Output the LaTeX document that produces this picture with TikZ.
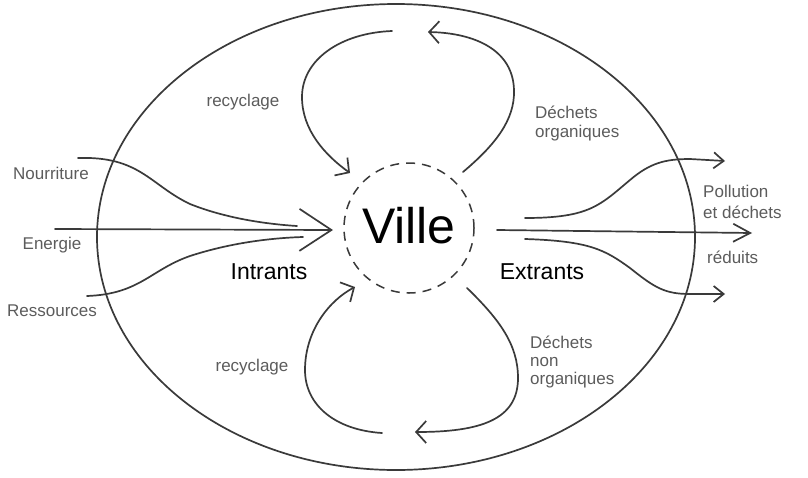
\documentclass[tikz,border=0pt]{standalone}
\usepackage{fontspec}
\setmainfont{Liberation Sans}
\usetikzlibrary{arrows.meta,shapes.geometric}
\definecolor{ink}{HTML}{3A3A3A}
\definecolor{lab}{HTML}{5C5C5C}
\begin{document}
\begin{tikzpicture}[x=1pt,y=-1pt,
  line/.style={draw=ink, line width=1.7pt, line cap=round, line join=round},
  bigbarb/.style={-{Straight Barb[length=32pt,width=42pt]}},
  midbarb/.style={-{Straight Barb[length=17pt,width=18pt]}},
  smallbarb/.style={-{Straight Barb[length=10pt,width=16pt]}},
  loopbarb/.style={-{Straight Barb[length=10pt,width=22pt]}},
  lbl/.style={text=lab, inner sep=0pt, font=\fontsize{17}{20}\selectfont},
  big/.style={text=black, inner sep=0pt, font=\fontsize{23}{26}\selectfont}]
\useasboundingbox (0,0) rectangle (808,477);
\fill[white] (0,0) rectangle (808,477);

% outer ellipse and city
\node[line, ellipse, minimum width=598pt, minimum height=466pt, inner sep=0pt] (outer) at (396,237) {};
\node[draw=ink, line width=1.5pt, dash pattern=on 9pt off 7pt, circle, minimum size=130pt, inner sep=0pt] (city) at (409,228) {};
\node[inner sep=0pt, font=\fontsize{50}{50}\selectfont] (ville) at (409,226) {Ville};

% labels
\node[lbl] (nour) at (51,173) {Nourriture};
\node[lbl] (ener) at (52,245) {Energie};
\node[lbl] (ress) at (52,311) {Ressources};
\node[big] (intr) at (269,272) {Intrants};
\node[big] (extr) at (542,272) {Extrants};
\node[lbl, anchor=west] (poll) at (703,191) {Pollution};
\node[lbl, anchor=west] (etde) at (703,212) {et déchets};
\node[lbl, anchor=west] (redu) at (707,257) {réduits};
\node[lbl] (rec1) at (243,102) {recyclage};
\node[lbl, anchor=west] (dor1) at (535,112) {Déchets};
\node[lbl, anchor=west] (dor2) at (535,133) {organiques};
\node[lbl] (rec2) at (252,367) {recyclage};
\node[lbl, anchor=west] (dno1) at (530,342) {Déchets};
\node[lbl, anchor=west] (dno2) at (530,362) {non};
\node[lbl, anchor=west] (dno3) at (530,380) {organiques};

% endpoints
\coordinate (inN) at (78,158);
\coordinate (inE) at (55,229);
\coordinate (inR) at (87,296);
\coordinate (tipN) at (297,226);
\coordinate (tipE) at (333,230);
\coordinate (tipR) at (303,237);
\coordinate (outU0) at (525,218);
\coordinate (outM0) at (497,230);
\coordinate (outL0) at (525,239);
\coordinate (outU) at (725,161);
\coordinate (outM) at (752,233);
\coordinate (outL) at (725,294);
\coordinate (t1a) at (392,31);
\coordinate (t1b) at (350,173);
\coordinate (t2a) at (463,172);
\coordinate (t2b) at (428,32);
\coordinate (b1a) at (382,433);
\coordinate (b1b) at (355,287);
\coordinate (b2a) at (467,288);
\coordinate (b2b) at (415,432);

% inputs
\draw[line] (inN) .. controls (140,156) and (150,185) .. (190,204) .. controls (225,218) and (265,224) .. (tipN);
\draw[line, bigbarb] (inE) -- (tipE);
\draw[line] (inR) .. controls (140,294) and (150,270) .. (190,256) .. controls (230,243) and (270,238) .. (tipR);

% outputs
\draw[line, smallbarb] (outU0) .. controls (590,218) and (600,205) .. (630,180) .. controls (650,163) and (665,159) .. (690,159) -- (outU);
\draw[line, midbarb] (outM0) -- (outM);
\draw[line, smallbarb] (outL0) .. controls (590,241) and (605,250) .. (630,268) .. controls (655,288) and (665,294) .. (690,294) -- (outL);

% top loop
\draw[line, loopbarb] (t1a) .. controls (340,33) and (302,60) .. (302,97) .. controls (302,130) and (325,155) .. (t1b);
\draw[line, loopbarb] (t2a) .. controls (495,145) and (515,120) .. (514,90) .. controls (513,50) and (475,33) .. (t2b);

% bottom loop
\draw[line, loopbarb] (b1a) .. controls (335,430) and (305,405) .. (305,370) .. controls (305,330) and (330,300) .. (b1b);
\draw[line, loopbarb] (b2a) .. controls (500,320) and (518,345) .. (518,378) .. controls (518,420) and (480,432) .. (b2b);
\end{tikzpicture}
\end{document}
